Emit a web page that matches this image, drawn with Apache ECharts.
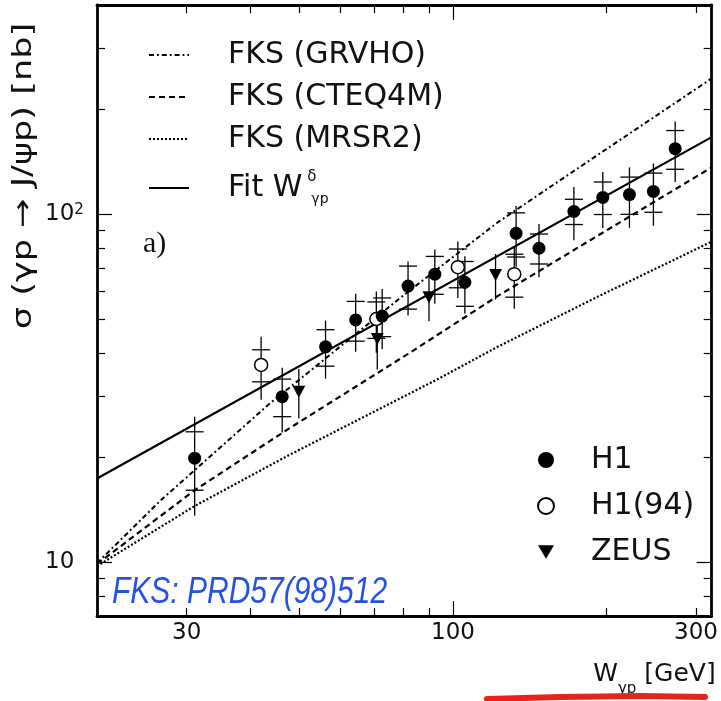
<!DOCTYPE html>
<html>
<head>
<meta charset="utf-8">
<script src="https://cdn.jsdelivr.net/npm/echarts@6/dist/echarts.min.js"></script>
<style>
  html, body { margin: 0; padding: 0; background: #fff; }
  #chart { width: 721px; height: 701px; }
</style>
</head>
<body>
<div id="chart"></div>
<script>
// ---- axes ---------------------------------------------------------------
const xMin = 20, xMax = 322;          // W_gp [GeV]
const yMin = 7, yMax = 400;           // sigma [nb]
const xLabelValues = [30, 100, 300];
const xMinorTickValues = [30, 40, 50, 60, 70, 80, 90, 200, 300];
const xMajorTickValues = [100];
const yLabelValues = [10, 100];
const yMinorTickValues = [8, 9, 20, 30, 40, 50, 60, 70, 80, 90, 200, 300];
const yMajorTickValues = [10, 100];

// ---- H1 measurements: W, sigma, stat. error, total error ----------------
const h1W     = [31.1, 46.2, 56.2, 64.4, 72.6, 81.6, 92.1, 105.5, 133, 147.5, 172.7, 196.8, 222, 247.4, 273];
const h1Sigma = [19.9, 29.9, 41.6, 49.7, 51.0, 62.2, 67.3, 63.8, 88.2, 79.9, 102, 111.9, 114, 116.4, 154.5];
const h1Stat  = [3.8, 3.7, 5.0, 6.5, 6.5, 8.8, 8.4, 9.4, 12.8, 7.9, 8.5, 12, 14, 15, 19.7];
const h1Tot   = [6.3, 6.3, 7.9, 9.4, 10, 11, 12, 12, 17.5, 14, 17.8, 20.5, 22.5, 23.7, 30.6];

// ---- H1 (94) measurements ------------------------------------------------
const h194W     = [42.0, 70.7, 102.2, 131.9];
const h194Sigma = [36.9, 50.0, 70.5, 67.3];
const h194Stat  = [3.9, 6.0, 9.0, 9.5];
const h194Tot   = [7.6, 10, 13, 13.8];

// ---- ZEUS measurements ---------------------------------------------------
const zeusW     = [49.8, 71.0, 89.7, 121.2];
const zeusSigma = [30.9, 43.8, 57.8, 66.9];
const zeusErr   = [5, 8, 8.5, 10];

// ---- FKS predictions and power-law fit -----------------------------------
const grvhoW     = [20, 26.6, 43.2, 79.1, 122.3, 191.5, 322];
const grvhoSigma = [9.93, 15.0, 28.2, 57.8, 94.8, 147.6, 246];
const cteqW      = [20, 31.1, 47.6, 81.6, 122.3, 191.5, 322];
const cteqSigma  = [9.87, 16.1, 24.2, 39.7, 58.2, 86.5, 136.5];
const mrsW       = [20, 31.1, 47.6, 93.4, 122.3, 191.5, 322];
const mrsSigma   = [9.74, 14.5, 20.3, 33.6, 41.6, 57.8, 83.5];
const fitW       = [20, 322];
const fitSigma   = [17.4, 166.8];

const FONT = 'DejaVu Sans';
const INK = '#111';

const pairs = (xs, ys) => xs.map((x, i) => [x, ys[i]]);

function xAxisDef(position, tickValues, tickLen, showLine, labels) {
  const a = {
    type: 'log', logBase: 10, min: xMin, max: xMax, position: position,
    splitLine: { show: false },
    axisLine: { show: showLine, lineStyle: { color: '#000', width: 2.8 } },
    axisTick: { show: true, inside: true, length: tickLen, customValues: tickValues,
                lineStyle: { color: '#000', width: 1.2 } },
    axisLabel: { show: false }
  };
  if (labels) {
    a.axisLabel = { show: true, customValues: xLabelValues, fontSize: 23, fontFamily: FONT,
                    color: INK, margin: 6 };
    a.name = '{n|W}{s|γp}{n| [GeV]}';
    a.nameLocation = 'end';
    a.nameGap = 4;
    a.nameTextStyle = {
      align: 'right', verticalAlign: 'top', padding: [46, 0, 0, 0],
      rich: {
        n: { fontSize: 25, fontFamily: FONT, color: INK },
        s: { fontSize: 15, fontFamily: FONT, color: INK, verticalAlign: 'bottom', padding: [0, 0, -10, 0] }
      }
    };
  }
  return a;
}

function yAxisDef(position, tickValues, tickLen, showLine, labels) {
  const a = {
    type: 'log', logBase: 10, min: yMin, max: yMax, position: position,
    splitLine: { show: false },
    axisLine: { show: showLine, lineStyle: { color: '#000', width: 2.8 } },
    axisTick: { show: true, inside: true, length: tickLen, customValues: tickValues,
                lineStyle: { color: '#000', width: 1.2 } },
    axisLabel: { show: false }
  };
  if (labels) {
    a.axisLabel = {
      show: true, customValues: yLabelValues, align: 'left', margin: 52,
      fontSize: 23, fontFamily: FONT, color: INK,
      formatter: function (v) {
        const e = Math.round(Math.log10(v));
        return e === 1 ? '10' : '10{sup|' + e + '}';
      },
      rich: { sup: { fontSize: 15, fontFamily: FONT, color: INK, verticalAlign: 'top', lineHeight: 15 } }
    };
  }
  return a;
}

// error bars: vertical line spanning the total error, short caps at the stat. error
function errorBars(params, api) {
  const w = api.value(0), s = api.value(1), st = api.value(2), tt = api.value(3);
  const top = api.coord([w, s + tt]);
  const bot = api.coord([w, s - tt]);
  const children = [{
    type: 'line', shape: { x1: top[0], y1: top[1], x2: bot[0], y2: bot[1] },
    style: { stroke: '#000', lineWidth: 1.3 }
  }];
  if (st > 0) {
    [s + st, s - st].forEach(function (v) {
      const p = api.coord([w, v]);
      children.push({
        type: 'line', shape: { x1: p[0] - 9, y1: p[1], x2: p[0] + 9, y2: p[1] },
        style: { stroke: '#000', lineWidth: 1.3 }
      });
    });
  }
  return { type: 'group', children: children };
}

const chart = echarts.init(document.getElementById('chart'), null, { renderer: 'canvas' });

const lineBase = { type: 'line', xAxisIndex: 0, yAxisIndex: 0, showSymbol: false, symbol: 'none',
                   silent: true, z: 2, itemStyle: { color: '#000' } };
// legend keys for curves show only the stroke
const curveKeyStyle = { color: 'rgba(0,0,0,0)', borderColor: 'rgba(0,0,0,0)', borderWidth: 0, opacity: 0 };

chart.setOption({
  animation: false,
  backgroundColor: '#fff',
  grid: { left: 97, top: 5, right: 4, bottom: 85, containLabel: false },
  title: {
    text: 'a)', left: 143, top: 229, padding: 0,
    textStyle: { fontFamily: 'Liberation Serif', fontSize: 30, fontWeight: 'normal', color: INK }
  },
  xAxis: [
    xAxisDef('bottom', xMinorTickValues, 8, true, true),
    xAxisDef('bottom', xMajorTickValues, 15, false, false),
    xAxisDef('top', xMinorTickValues, 8, true, false),
    xAxisDef('top', xMajorTickValues, 15, false, false)
  ],
  yAxis: [
    yAxisDef('left', yMinorTickValues, 8, true, true),
    yAxisDef('left', yMajorTickValues, 15, false, false),
    yAxisDef('right', yMinorTickValues, 8, true, false),
    yAxisDef('right', yMajorTickValues, 15, false, false)
  ],
  legend: [
    {
      data: ['FKS (GRVHO)', 'FKS (CTEQ4M)', 'FKS (MRSR2)'],
      orient: 'vertical', left: 148, top: 40, itemWidth: 40, itemHeight: 14, itemGap: 12,
      selectedMode: false, padding: 0, itemStyle: curveKeyStyle,
      textStyle: { fontSize: 30, fontFamily: FONT, color: INK, padding: [0, 0, 0, 34] }
    },
    {
      data: ['Fit'],
      orient: 'vertical', left: 148, top: 170, itemWidth: 40, itemHeight: 14,
      selectedMode: false, padding: 0, itemStyle: curveKeyStyle,
      formatter: function () { return '{a|Fit W}{sup|δ}{sub|γp}'; },
      textStyle: {
        fontSize: 30, fontFamily: FONT, color: INK, padding: [0, 0, 0, 34],
        rich: {
          a: { fontSize: 30, fontFamily: FONT, color: INK, lineHeight: 36 },
          sup: { fontSize: 15, fontFamily: FONT, color: INK, verticalAlign: 'top', lineHeight: 15, width: 2, padding: [0, 0, 0, 5] },
          sub: { fontSize: 14, fontFamily: FONT, color: INK, verticalAlign: 'bottom', lineHeight: 14, padding: [0, 0, 0, 2] }
        }
      }
    },
    {
      data: ['H1', 'H1(94)', { name: 'ZEUS', icon: 'path://M0,0L14,0L7,12Z' }],
      orient: 'vertical', left: 537, top: 445, itemWidth: 16, itemHeight: 16, itemGap: 16,
      selectedMode: false, padding: 0,
      textStyle: { fontSize: 30, fontFamily: FONT, color: INK, padding: [0, 0, 0, 32] }
    }
  ],
  graphic: [
    {
      type: 'text', x: 24, y: 176, rotation: Math.PI / 2, scaleX: 1.3, z: 10,
      style: { text: 'σ (γp → J/ψp) [nb]', fontSize: 27, fontFamily: FONT, fill: INK,
               align: 'center', verticalAlign: 'middle' }
    },
    {
      type: 'text', x: 112, y: 593, scaleY: 1.25, z: 10,
      style: { text: 'FKS: PRD57(98)512', fontSize: 30, fontFamily: 'Liberation Sans',
               fontStyle: 'italic', fill: '#2452e6', align: 'left', verticalAlign: 'middle' }
    },
    {
      type: 'polyline', z: 10,
      shape: { points: [[487, 699], [560, 697], [640, 696], [705, 697]] },
      style: { stroke: '#e8231d', lineWidth: 6, lineCap: 'round' }
    }
  ],
  series: [
    Object.assign({}, lineBase, { name: 'FKS (GRVHO)', data: pairs(grvhoW, grvhoSigma),
      lineStyle: { color: '#000', width: 2, type: [5, 3, 1.8, 3] } }),
    Object.assign({}, lineBase, { name: 'FKS (CTEQ4M)', data: pairs(cteqW, cteqSigma),
      lineStyle: { color: '#000', width: 2.2, type: [6, 4] } }),
    Object.assign({}, lineBase, { name: 'FKS (MRSR2)', data: pairs(mrsW, mrsSigma),
      lineStyle: { color: '#000', width: 2.2, type: [2, 2] } }),
    Object.assign({}, lineBase, { name: 'Fit', data: pairs(fitW, fitSigma),
      lineStyle: { color: '#000', width: 2.2, type: 'solid' } }),
    {
      type: 'custom', name: 'H1 errors', xAxisIndex: 0, yAxisIndex: 0, silent: true, z: 3,
      renderItem: errorBars, encode: { x: 0, y: 1 },
      data: h1W.map((w, i) => [w, h1Sigma[i], h1Stat[i], h1Tot[i]])
    },
    {
      type: 'custom', name: 'H1(94) errors', xAxisIndex: 0, yAxisIndex: 0, silent: true, z: 3,
      renderItem: errorBars, encode: { x: 0, y: 1 },
      data: h194W.map((w, i) => [w, h194Sigma[i], h194Stat[i], h194Tot[i]])
    },
    {
      type: 'custom', name: 'ZEUS errors', xAxisIndex: 0, yAxisIndex: 0, silent: true, z: 3,
      renderItem: errorBars, encode: { x: 0, y: 1 },
      data: zeusW.map((w, i) => [w, zeusSigma[i], 0, zeusErr[i]])
    },
    {
      type: 'scatter', name: 'H1(94)', xAxisIndex: 0, yAxisIndex: 0, z: 4,
      symbol: 'circle', symbolSize: 13,
      itemStyle: { color: '#fff', borderColor: '#000', borderWidth: 1.5, opacity: 1 },
      data: pairs(h194W, h194Sigma)
    },
    {
      type: 'scatter', name: 'ZEUS', xAxisIndex: 0, yAxisIndex: 0, z: 4,
      symbol: 'triangle', symbolRotate: 180, symbolSize: [13, 12],
      itemStyle: { color: '#000', opacity: 1 },
      data: pairs(zeusW, zeusSigma)
    },
    {
      type: 'scatter', name: 'H1', xAxisIndex: 0, yAxisIndex: 0, z: 5,
      symbol: 'circle', symbolSize: 13,
      itemStyle: { color: '#000', opacity: 1 },
      data: pairs(h1W, h1Sigma)
    }
  ]
});
</script>
</body>
</html>
